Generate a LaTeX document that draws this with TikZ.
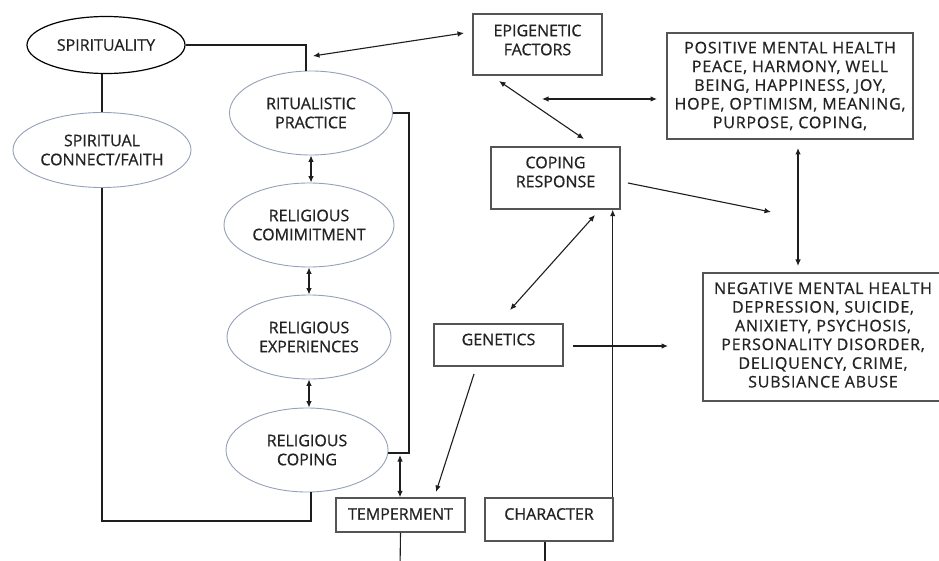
\documentclass[tikz,border=0pt]{standalone}
\usepackage{fontspec}
\setmainfont{Open Sans}[UprightFeatures={FakeBold=0.7}]
\usetikzlibrary{shapes.geometric,arrows.meta}
\definecolor{ellc}{RGB}{150,160,185}
\definecolor{boxc}{RGB}{85,85,85}
\definecolor{txtc}{RGB}{35,35,35}
\definecolor{linec}{RGB}{30,30,30}
\tikzset{
  ell/.style={ellipse,draw=ellc,line width=0.9pt,inner sep=0pt,align=center,text=txtc},
  boxn/.style={rectangle,draw=boxc,line width=1.4pt,inner sep=0pt},
  txt/.style={align=center,text=txtc,inner sep=0pt},
  conn/.style={draw=linec,line width=1.1pt},
  tip/.style={-{Latex[length=6.5pt,width=5.5pt]}},
  tips/.style={{Latex[length=6.5pt,width=5.5pt]}-{Latex[length=6.5pt,width=5.5pt]}}
}
\begin{document}
\begin{tikzpicture}[x=1pt,y=-1pt,font=\fontsize{16pt}{19pt}\selectfont]
\clip (0,0) rectangle (939,561);
\fill[white] (0,0) rectangle (939,561);
% ellipses
\node[ell,draw=black,line width=1.2pt,minimum width=158,minimum height=57] (spir) at (106,45) {SPIRITUALITY};
\node[ell,minimum width=178,minimum height=75] (conn) at (102,150) {SPIRITUAL\\CONNECT/FAITH};
\node[ell,minimum width=163,minimum height=84] (rit) at (311,113) {RITUALISTIC\\PRACTICE};
\node[ell,minimum width=170,minimum height=84] (comm) at (309,225) {RELIGIOUS\\COMIMITMENT};
\node[ell,minimum width=164,minimum height=84] (exp) at (309,337) {RELIGIOUS\\EXPERIENCES};
\node[ell,minimum width=162,minimum height=84] (rcop) at (307,450) {RELIGIOUS\\COPING};
% boxes
\node[boxn,minimum width=129,minimum height=61] (epi) at (537.5,44.5) {};
\node[txt] (epit) at (537.5,40) {EPIGENETIC\\FACTORS};
\node[boxn,minimum width=246,minimum height=106] (pos) at (790,86) {};
\node[txt,font=\fontsize{16pt}{18.7pt}\selectfont\addfontfeatures{LetterSpace=5}] (post) at (790,86) {POSITIVE MENTAL HEALTH\\PEACE, HARMONY, WELL\\BEING, HAPPINESS, JOY,\\HOPE, OPTIMISM, MEANING,\\PURPOSE, COPING,};
\node[boxn,minimum width=129,minimum height=62] (cr) at (555.5,178) {};
\node[txt] (crt) at (555.5,172) {COPING\\RESPONSE};
\node[boxn,minimum width=129,minimum height=42] (gen) at (498.5,345) {};
\node[txt] (gent) at (498.5,339.5) {GENETICS};
\node[boxn,minimum width=250,minimum height=128] (neg) at (828,337) {};
\node[txt,font=\fontsize{16pt}{18.7pt}\selectfont\addfontfeatures{LetterSpace=5}] (negt) at (823,335) {NEGATIVE MENTAL HEALTH\\DEPRESSION, SUICIDE,\\ANIXIETY, PSYCHOSIS,\\PERSONALITY DISORDER,\\DELIQUENCY, CRIME,\\SUBSIANCE ABUSE};
\node[boxn,minimum width=129,minimum height=34] (temp) at (400.5,515) {};
\node[txt] (tempt) at (400.5,514) {TEMPERMENT};
\node[boxn,minimum width=128,minimum height=43] (char) at (549,519.5) {};
\node[txt] (chart) at (549,514) {CHARACTER};
% coordinates
\coordinate (s1) at (313,56);
\coordinate (s2) at (464,33);
\coordinate (b1) at (311,521);
\coordinate (b2) at (409,453);
\coordinate (t1) at (400,455);
\coordinate (tb) at (400,570);
\coordinate (cb) at (545,570);
\coordinate (g1) at (474,374);
\coordinate (g2) at (436,492);
\coordinate (g3) at (510,310);
\coordinate (g4) at (595,215);
\coordinate (g5) at (573,346);
\coordinate (g6) at (668,346);
\coordinate (e1) at (499,81);
\coordinate (e2) at (584,139);
\coordinate (h1) at (542,99);
\coordinate (h2) at (657,99);
\coordinate (r1) at (628,183);
\coordinate (r2) at (771,212);
\coordinate (p1) at (798,148);
\coordinate (p2) at (798,266);
% connectors
\draw[conn] (spir.east) -| ([xshift=-5pt]rit.north);
\draw[conn,tips] (s1) -- (s2);
\draw[conn] (spir.south -| conn.north) -- (conn.north);
\draw[conn] (conn.south) |- (b1) -- (b1 |- rcop.south);
\draw[conn] (rit.east) -| (b2) -- (rcop.east |- b2);
\draw[conn,tips] (rit.south) -- (rit.south |- comm.north);
\draw[conn,tips] (comm.south) -- (comm.south |- exp.north);
\draw[conn,tips] (exp.south) -- (exp.south |- rcop.north);
\draw[conn,tips] (t1) -- (t1 |- temp.north);
\draw[conn] (temp.south) -- (tb);
\draw[conn] (char.south -| cb) -- (cb);
\draw[conn,tip] ([xshift=-1pt]char.north east) -- ([xshift=-1pt]char.north east |- cr.south);
\draw[conn,tip] (g1) -- (g2);
\draw[conn,tips] (g3) -- (g4);
\draw[conn,tip] (g5) -- (g6);
\draw[conn,tips] (e1) -- (e2);
\draw[conn,tips] (h1) -- (h2);
\draw[conn,tip] (r1) -- (r2);
\draw[conn,tips] (p1) -- (p2);
\end{tikzpicture}
\end{document}
